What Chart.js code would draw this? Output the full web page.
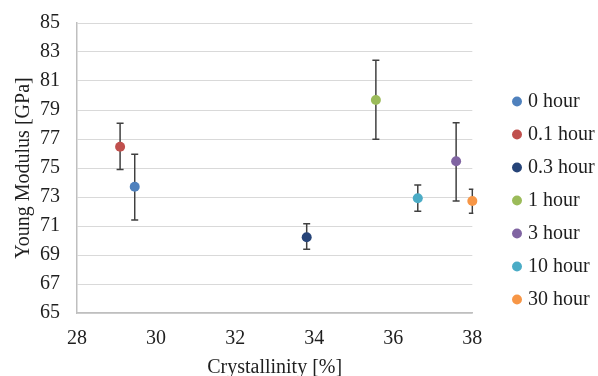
<!DOCTYPE html>
<html>
<head>
<meta charset="utf-8">
<script src="https://cdn.jsdelivr.net/npm/chart.js@4"></script>
<style>
  html, body { margin: 0; padding: 0; background: #ffffff; }
  #wrap { width: 598px; height: 376px; }
</style>
</head>
<body>
<div id="wrap"><canvas id="c" width="598" height="376"></canvas></div>
<script>
const seriesNames = ['0 hour', '0.1 hour', '0.3 hour', '1 hour', '3 hour', '10 hour', '30 hour'];
const crystallinity = [29.46, 29.09, 33.81, 35.56, 37.59, 36.62, 38.0];
const youngModulus = [73.71, 76.47, 70.22, 79.69, 75.46, 72.91, 72.72];
const errorLow = [71.41, 74.90, 69.39, 76.98, 72.72, 72.01, 71.88];
const errorHigh = [75.94, 78.08, 71.16, 82.43, 78.12, 73.83, 73.53];
const seriesColors = ['#4F81BD', '#C0504D', '#264478', '#9BBB59', '#8064A2', '#4BACC6', '#F79646'];
const xTickValues = [28, 30, 32, 34, 36, 38];
const yTickValues = [65, 67, 69, 71, 73, 75, 77, 79, 81, 83, 85];

const FONT = "'Liberation Serif', 'Times New Roman', serif";
const TEXT = '#1f1f1f';

const datasets = seriesNames.map((name, i) => ({
  label: name,
  data: [{ x: crystallinity[i], y: youngModulus[i], yMin: errorLow[i], yMax: errorHigh[i] }],
  backgroundColor: seriesColors[i],
  borderColor: seriesColors[i],
  pointRadius: 5,
  pointHoverRadius: 5,
  pointBorderWidth: 0,
  pointStyle: 'circle',
  clip: false
}));

const errorBars = {
  id: 'errorBars',
  beforeDatasetsDraw(chart) {
    const { ctx, chartArea, scales: { x, y } } = chart;
    ctx.save();
    ctx.beginPath();
    ctx.rect(chartArea.left - 1, chartArea.top - 1, chartArea.right - chartArea.left + 2, chartArea.bottom - chartArea.top + 2);
    ctx.clip();
    ctx.strokeStyle = '#404040';
    ctx.lineWidth = 1.5;
    chart.data.datasets.forEach(ds => {
      ds.data.forEach(p => {
        const px = x.getPixelForValue(p.x);
        const yt = y.getPixelForValue(p.yMax);
        const yb = y.getPixelForValue(p.yMin);
        const cap = 3.5;
        ctx.beginPath();
        ctx.moveTo(px, yt); ctx.lineTo(px, yb);
        ctx.moveTo(px - cap, yt); ctx.lineTo(px + cap, yt);
        ctx.moveTo(px - cap, yb); ctx.lineTo(px + cap, yb);
        ctx.stroke();
      });
    });
    ctx.restore();
  }
};

const legendShift = {
  id: 'legendShift',
  afterLayout(chart) {
    const lg = chart.legend;
    if (lg) {
      const dx = 503 - lg.left;
      lg.left += dx; lg.right += dx;
      lg.top += 1; lg.bottom += 1;
    }
  }
};

new Chart(document.getElementById('c'), {
  type: 'scatter',
  data: { datasets },
  options: {
    responsive: false,
    animation: false,
    devicePixelRatio: 1,
    layout: { padding: { left: 8, right: 24, top: 23, bottom: 0 } },
    plugins: {
      tooltip: { enabled: false },
      legend: {
        position: 'right',
        align: 'center',
        labels: {
          usePointStyle: true,
          pointStyle: 'circle',
          boxWidth: 2,
          boxHeight: 7,
          padding: 13,
          color: TEXT,
          font: { family: FONT, size: 20 }
        }
      }
    },
    scales: {
      x: {
        type: 'linear',
        min: 28,
        max: 38,
        afterBuildTicks(scale) { scale.ticks = xTickValues.map(v => ({ value: v })); },
        afterFit(scale) {
          scale.height = 63;
          scale.paddingLeft = 0; scale.paddingRight = 0;
        },
        grid: { display: false, drawTicks: false },
        border: { display: true, color: '#bfbfbf', width: 1.5 },
        ticks: { color: TEXT, font: { family: FONT, size: 20 }, padding: 14, maxRotation: 0 },
        title: {
          display: true,
          text: 'Crystallinity [%]',
          color: TEXT,
          font: { family: FONT, size: 20, lineHeight: 0.8 },
          padding: { top: 9, bottom: 0 }
        }
      },
      y: {
        type: 'linear',
        min: 65,
        max: 85,
        afterBuildTicks(scale) { scale.ticks = yTickValues.map(v => ({ value: v })); },
        afterFit(scale) {
          scale.width = 69;
          scale.paddingTop = 0; scale.paddingBottom = 0;
        },
        grid: { color: '#d9d9d9', lineWidth: 1, drawTicks: false },
        border: { display: true, color: '#bfbfbf', width: 1.5 },
        ticks: { color: TEXT, font: { family: FONT, size: 20 }, padding: 17 },
        title: {
          display: true,
          text: 'Young Modulus [GPa]',
          color: TEXT,
          font: { family: FONT, size: 20 },
          padding: { top: 4, bottom: 3 }
        }
      }
    }
  },
  plugins: [errorBars, legendShift]
});
</script>
</body>
</html>
